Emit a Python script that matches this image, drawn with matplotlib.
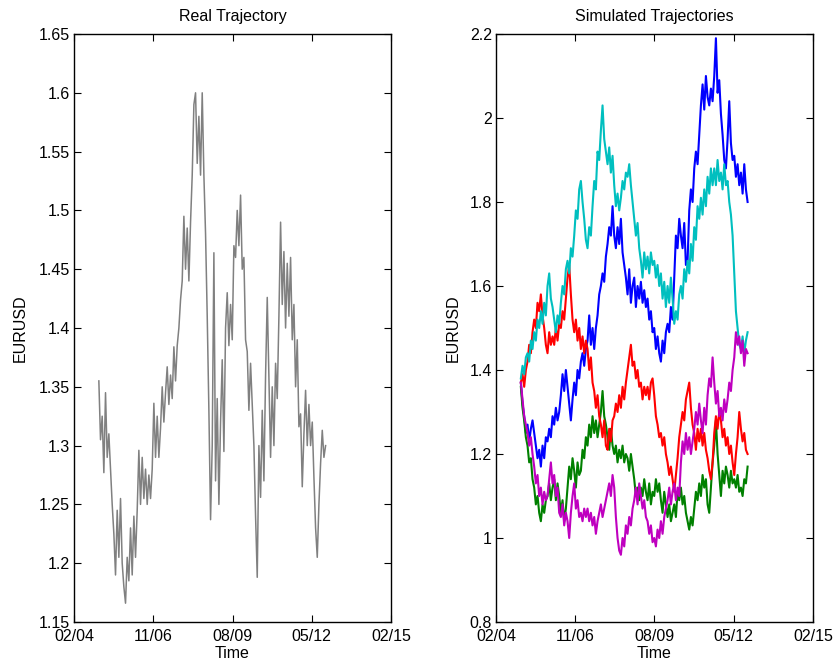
import matplotlib
matplotlib.use("Agg")
import matplotlib.pyplot as plt
import matplotlib.dates as mdates
from matplotlib.ticker import FixedLocator, FuncFormatter
import numpy as np
import pandas as pd
from datetime import datetime

plt.rcParams['font.family'] = ['Liberation Sans', 'DejaVu Sans']

# ---- data -------------------------------------------------------------
series_start = '2004-12-12'
series_end = '2012-10-25'

real_eurusd = [
    1.355, 1.305, 1.325, 1.277, 1.345, 1.29, 1.31, 1.28, 1.25, 1.225,
    1.19, 1.245, 1.205, 1.255, 1.20, 1.18, 1.166, 1.205, 1.185, 1.23,
    1.19, 1.24, 1.205, 1.245, 1.296, 1.25, 1.29, 1.255, 1.28, 1.25,
    1.275, 1.255, 1.28, 1.336, 1.29, 1.325, 1.29, 1.315, 1.35, 1.32,
    1.345, 1.367, 1.335, 1.36, 1.34, 1.384, 1.355, 1.385, 1.40, 1.424,
    1.44, 1.495, 1.45, 1.485, 1.44, 1.49, 1.53, 1.59, 1.60, 1.54,
    1.58, 1.53, 1.60, 1.53, 1.48, 1.41, 1.33, 1.237, 1.30, 1.464,
    1.27, 1.34, 1.25, 1.32, 1.373, 1.295, 1.40, 1.43, 1.385, 1.42,
    1.39, 1.47, 1.46, 1.50, 1.47, 1.513, 1.45, 1.46, 1.39, 1.38,
    1.33, 1.37, 1.335, 1.30, 1.24, 1.188, 1.30, 1.256, 1.33, 1.27,
    1.36, 1.426, 1.36, 1.29, 1.35, 1.30, 1.37, 1.34, 1.41, 1.49,
    1.42, 1.465, 1.40, 1.455, 1.41, 1.46, 1.39, 1.42, 1.35, 1.39,
    1.316, 1.327, 1.265, 1.31, 1.347, 1.30, 1.335, 1.30, 1.32, 1.273,
    1.23, 1.205, 1.25, 1.285, 1.313, 1.29, 1.30,
]

sim_blue = [
    1.37, 1.32, 1.29, 1.25, 1.27, 1.23, 1.26, 1.28, 1.25, 1.22, 1.19, 1.21,
    1.17, 1.22, 1.19, 1.24, 1.23, 1.26, 1.24, 1.29, 1.27, 1.31, 1.28, 1.30,
    1.34, 1.39, 1.35, 1.40, 1.36, 1.32, 1.28, 1.33, 1.37, 1.34, 1.40, 1.38,
    1.42, 1.44, 1.41, 1.45, 1.47, 1.53, 1.46, 1.50, 1.45, 1.50, 1.53, 1.58,
    1.60, 1.63, 1.61, 1.67, 1.70, 1.74, 1.72, 1.79, 1.72, 1.69, 1.74, 1.70,
    1.76, 1.68, 1.65, 1.62, 1.58, 1.64, 1.56, 1.60, 1.62, 1.55, 1.60, 1.57,
    1.61, 1.56, 1.59, 1.55, 1.57, 1.52, 1.54, 1.49, 1.50, 1.45, 1.48, 1.44,
    1.42, 1.47, 1.44, 1.49, 1.51, 1.49, 1.55, 1.52, 1.62, 1.72, 1.69, 1.76,
    1.72, 1.69, 1.75, 1.65, 1.66, 1.78, 1.83, 1.80, 1.88, 1.92, 1.89, 1.96,
    2.03, 2.08, 2.02, 2.10, 2.05, 2.03, 2.07, 2.04, 2.10, 2.19, 2.06, 2.09,
    2.01, 1.96, 1.90, 1.88, 1.95, 2.04, 1.94, 1.90, 1.91, 1.86, 1.89, 1.84,
    1.87, 1.82, 1.89, 1.83, 1.80,
]

sim_green = [
    1.36, 1.31, 1.28, 1.24, 1.22, 1.18, 1.19, 1.14, 1.12, 1.08, 1.10, 1.06,
    1.04, 1.08, 1.06, 1.09, 1.10, 1.13, 1.09, 1.12, 1.14, 1.09, 1.13, 1.10,
    1.06, 1.09, 1.04, 1.07, 1.12, 1.17, 1.14, 1.19, 1.16, 1.12, 1.18, 1.15,
    1.16, 1.21, 1.19, 1.24, 1.22, 1.27, 1.24, 1.29, 1.25, 1.28, 1.24, 1.27,
    1.30, 1.35, 1.29, 1.27, 1.24, 1.21, 1.26, 1.22, 1.20, 1.22, 1.18, 1.21,
    1.19, 1.22, 1.18, 1.20, 1.19, 1.16, 1.20, 1.17, 1.14, 1.10, 1.12, 1.09,
    1.12, 1.10, 1.14, 1.11, 1.09, 1.13, 1.08, 1.11, 1.10, 1.14, 1.11, 1.13,
    1.09, 1.06, 1.11, 1.08, 1.05, 1.08, 1.04, 1.06, 1.08, 1.05, 1.11, 1.09,
    1.12, 1.08, 1.10, 1.06, 1.04, 1.02, 1.05, 1.03, 1.07, 1.11, 1.09, 1.13,
    1.10, 1.15, 1.12, 1.14, 1.08, 1.06, 1.12, 1.18, 1.22, 1.28, 1.20, 1.15,
    1.10, 1.16, 1.13, 1.17, 1.15, 1.12, 1.16, 1.13, 1.14, 1.12, 1.15, 1.11,
    1.12, 1.10, 1.14, 1.13, 1.17,
]

sim_red = [
    1.37, 1.39, 1.36, 1.40, 1.42, 1.46, 1.44, 1.49, 1.52, 1.50, 1.56, 1.54,
    1.58, 1.53, 1.50, 1.46, 1.44, 1.49, 1.46, 1.48, 1.46, 1.50, 1.47, 1.51,
    1.50, 1.54, 1.52, 1.57, 1.62, 1.65, 1.58, 1.52, 1.49, 1.52, 1.47, 1.50,
    1.45, 1.48, 1.44, 1.47, 1.45, 1.40, 1.43, 1.37, 1.35, 1.31, 1.34, 1.29,
    1.27, 1.24, 1.28, 1.22, 1.21, 1.26, 1.23, 1.28, 1.29, 1.32, 1.30, 1.34,
    1.31, 1.36, 1.33, 1.37, 1.40, 1.43, 1.46, 1.41, 1.42, 1.38, 1.40, 1.36,
    1.37, 1.33, 1.36, 1.34, 1.36, 1.33, 1.37, 1.38, 1.34, 1.29, 1.27, 1.24,
    1.25, 1.22, 1.24, 1.20, 1.18, 1.15, 1.17, 1.14, 1.11, 1.15, 1.19, 1.24,
    1.27, 1.30, 1.28, 1.33, 1.35, 1.37, 1.31, 1.27, 1.25, 1.21, 1.26, 1.23,
    1.26, 1.22, 1.25, 1.21, 1.19, 1.16, 1.14, 1.18, 1.25, 1.29, 1.26, 1.30,
    1.28, 1.24, 1.26, 1.22, 1.24, 1.20, 1.22, 1.18, 1.15, 1.20, 1.24, 1.30,
    1.26, 1.23, 1.25, 1.21, 1.20,
]

sim_cyan = [
    1.38, 1.41, 1.39, 1.43, 1.44, 1.42, 1.47, 1.45, 1.49, 1.47, 1.52, 1.50,
    1.54, 1.51, 1.56, 1.53, 1.60, 1.63, 1.57, 1.55, 1.52, 1.49, 1.53, 1.51,
    1.56, 1.60, 1.58, 1.64, 1.66, 1.63, 1.69, 1.67, 1.72, 1.78, 1.76, 1.83,
    1.85, 1.80, 1.76, 1.71, 1.69, 1.74, 1.72, 1.79, 1.85, 1.83, 1.92, 1.90,
    1.97, 2.03, 1.95, 1.92, 1.89, 1.93, 1.87, 1.91, 1.84, 1.79, 1.82, 1.78,
    1.81, 1.85, 1.83, 1.87, 1.86, 1.89, 1.84, 1.80, 1.76, 1.72, 1.75, 1.69,
    1.66, 1.62, 1.68, 1.64, 1.67, 1.63, 1.68, 1.65, 1.66, 1.62, 1.65, 1.60,
    1.63, 1.57, 1.61, 1.55, 1.60, 1.56, 1.62, 1.57, 1.51, 1.54, 1.52, 1.58,
    1.60, 1.57, 1.64, 1.61, 1.66, 1.63, 1.70, 1.66, 1.74, 1.71, 1.79, 1.76,
    1.81, 1.77, 1.83, 1.79, 1.86, 1.82, 1.88, 1.84, 1.88, 1.84, 1.90, 1.85,
    1.87, 1.83, 1.89, 1.84, 1.85, 1.80, 1.77, 1.72, 1.63, 1.54, 1.50, 1.46,
    1.45, 1.48, 1.44, 1.47, 1.49,
]

sim_magenta = [
    1.37, 1.33, 1.29, 1.27, 1.25, 1.22, 1.24, 1.20, 1.17, 1.13, 1.15, 1.10,
    1.12, 1.08, 1.11, 1.09, 1.10, 1.14, 1.18, 1.13, 1.15, 1.10, 1.12, 1.06,
    1.05, 1.08, 1.03, 1.06, 1.04, 1.00, 1.06, 1.10, 1.13, 1.07, 1.09, 1.05,
    1.06, 1.04, 1.07, 1.05, 1.07, 1.04, 1.06, 1.03, 1.05, 1.01, 1.04, 1.06,
    1.08, 1.05, 1.07, 1.09, 1.11, 1.13, 1.10, 1.15, 1.12, 1.05, 1.00, 0.97,
    0.96, 1.00, 0.98, 1.03, 1.01, 1.05, 1.03, 1.07, 1.09, 1.12, 1.08, 1.13,
    1.10, 1.07, 1.09, 1.05, 1.04, 1.01, 1.03, 0.99, 1.00, 0.98, 1.02, 1.00,
    1.04, 1.01, 1.05, 1.07, 1.09, 1.12, 1.08, 1.11, 1.13, 1.09, 1.12, 1.10,
    1.18, 1.23, 1.20, 1.25, 1.21, 1.24, 1.20, 1.23, 1.26, 1.30, 1.27, 1.32,
    1.28, 1.25, 1.31, 1.27, 1.34, 1.38, 1.36, 1.43, 1.37, 1.32, 1.35, 1.29,
    1.31, 1.28, 1.33, 1.30, 1.33, 1.37, 1.35, 1.40, 1.43, 1.49, 1.46, 1.48,
    1.44, 1.47, 1.41, 1.45, 1.44,
]

# MATLAB-style default line colours, in plotting order
sim_series = [sim_blue, sim_green, sim_red, sim_cyan, sim_magenta]
sim_colors = ['#0000ff', '#008000', '#ff0000', '#00bfbf', '#bf00bf']

real_yticks = [1.15, 1.2, 1.25, 1.3, 1.35, 1.4, 1.45, 1.5, 1.55, 1.6, 1.65]
sim_yticks = [0.8, 1.0, 1.2, 1.4, 1.6, 1.8, 2.0, 2.2]


def times(n):
    return pd.date_range(series_start, series_end, periods=n)


# ---- figure -----------------------------------------------------------
W, H = 837, 668
fig = plt.figure(figsize=(W / 100, H / 100), dpi=100)
fig.patch.set_facecolor('white')
ax1 = fig.add_axes([74 / W, 46 / H, 317 / W, 588 / H])
ax2 = fig.add_axes([496 / W, 46 / H, 317 / W, 588 / H])

ax1.plot(times(len(real_eurusd)), real_eurusd, color='#808080', lw=1.1)
for vals, col in zip(sim_series, sim_colors):
    ax2.plot(times(len(vals)), vals, color=col, lw=1.5)

x_lo = mdates.date2num(datetime(2004, 2, 1))
x_hi = mdates.date2num(datetime(2015, 2, 1))
xticks = np.linspace(x_lo, x_hi, 5)

for ax, yt, title, ylx in [(ax1, real_yticks, 'Real Trajectory', -0.145),
                           (ax2, sim_yticks, 'Simulated Trajectories', -0.112)]:
    ax.set_xlim(x_lo, x_hi)
    ax.set_ylim(yt[0], yt[-1])
    ax.xaxis.set_major_locator(FixedLocator(xticks))
    ax.xaxis.set_major_formatter(mdates.DateFormatter('%m/%y'))
    ax.yaxis.set_major_locator(FixedLocator(yt))
    ax.yaxis.set_major_formatter(FuncFormatter(lambda v, p: '%g' % round(v, 4)))
    ax.tick_params(direction='in', top=True, right=True, length=5, width=0.8,
                   labelsize=11.5, pad=3)
    ax.tick_params(axis='x', pad=5)
    for sp in ax.spines.values():
        sp.set_linewidth(1.0)
    ax.set_title(title, fontsize=11.5, pad=9)
    ax.set_xlabel('Time', fontsize=11.5)
    ax.set_ylabel('EURUSD', fontsize=11.5)
    ax.xaxis.set_label_coords(0.5, -0.040)
    ax.yaxis.set_label_coords(ylx, 0.5)

fig.savefig('out.png', dpi=100, facecolor='white')
